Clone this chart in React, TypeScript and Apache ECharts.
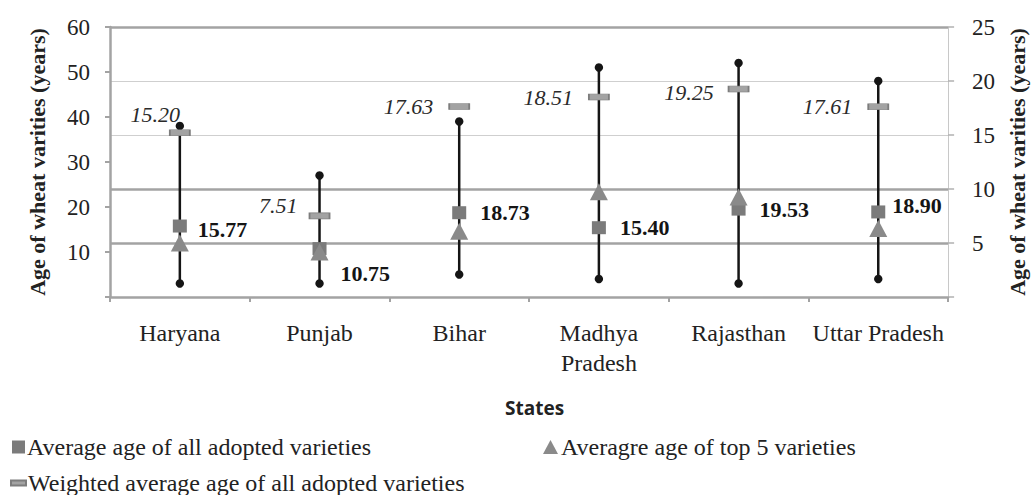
import React, { useEffect, useRef } from "react";
import * as echarts from "echarts";

const states = ["Haryana", "Punjab", "Bihar", "Madhya\nPradesh", "Rajasthan", "Uttar Pradesh"];
const maxAge = [38, 27, 39, 51, 52, 48];
const minAge = [3, 3, 5, 4, 3, 4];
const avgAll = [15.77, 10.75, 18.73, 15.4, 19.53, 18.9];
const avgTop5 = [12, 10, 14.6, 23.4, 22.2, 15.2];
const weightedAvg = [15.2, 7.51, 17.63, 18.51, 19.25, 17.61];
const leftTicks = { min: 0, max: 60, interval: 10 };
const rightTicks = { min: 0, max: 25, interval: 5 };

const NAME_AVG = "Average age of all adopted varieties";
const NAME_TOP5 = "Averagre age of top 5 varieties";
const NAME_W = "Weighted average age of all adopted varieties";
const AXIS_TITLE = "Age of wheat varities (years)";

const SERIF = "'Liberation Serif', 'Times New Roman', serif";

export default function App() {
  const ref = useRef<HTMLDivElement>(null);
  useEffect(() => {
    document.body.style.margin = "0";
    const chart = echarts.init(ref.current!, null, { renderer: "svg" });
    const avgOffsets: Record<number, number[]> = { 0: [-3, 3], 1: [0, 25], 5: [-7, -6] };
    const wOffsets: Record<number, number[]> = { 0: [26, -18], 1: [4, -10], 4: [1, 3] };
    const option: any = {
      animation: false,
      grid: { left: 110, right: 78, top: 27, bottom: 198 },
      xAxis: {
        type: "category",
        data: states,
        axisLine: { lineStyle: { color: "#a3a3a3", width: 2.5 } },
        axisTick: { show: true, length: 5, lineStyle: { color: "#a3a3a3", width: 2 } },
        axisLabel: {
          margin: 21,
          fontFamily: SERIF,
          fontSize: 24,
          lineHeight: 30,
          color: "#222",
          interval: 0,
        },
      },
      yAxis: [
        {
          type: "value",
          ...leftTicks,
          position: "left",
          name: AXIS_TITLE,
          nameLocation: "middle",
          nameGap: 62,
          nameTextStyle: { fontFamily: SERIF, fontSize: 22, fontWeight: "bold", color: "#222" },
          axisLine: { show: true, lineStyle: { color: "#a3a3a3", width: 2.5 } },
          axisTick: { show: true, length: 5, lineStyle: { color: "#a3a3a3", width: 2 } },
          axisLabel: {
            margin: 20,
            fontFamily: SERIF,
            fontSize: 23,
            color: "#222",
            formatter: (v: number) => (v === 0 ? "" : String(v)),
          },
          splitLine: { show: false },
        },
        {
          type: "value",
          ...rightTicks,
          position: "right",
          name: AXIS_TITLE,
          nameLocation: "middle",
          nameGap: 56,
          nameTextStyle: { fontFamily: SERIF, fontSize: 22, fontWeight: "bold", color: "#222" },
          axisLine: { show: true, lineStyle: { color: "#c8c8c8", width: 1 } },
          axisTick: { show: true, length: 6, lineStyle: { color: "#b0b0b0", width: 1.5 } },
          axisLabel: {
            margin: 24,
            fontFamily: SERIF,
            fontSize: 23,
            color: "#222",
            formatter: (v: number) => (v === 0 ? "" : String(v)),
          },
          splitLine: { show: true, lineStyle: { color: "#cfcfcf", width: 1 } },
        },
        {
          type: "value",
          min: 0,
          max: 25,
          interval: 5,
          position: "right",
          axisLine: { show: false },
          axisTick: { show: false },
          axisLabel: { show: false },
          splitLine: {
            show: true,
            lineStyle: {
              color: ["rgba(0,0,0,0)", "#a3a3a3", "#a3a3a3", "rgba(0,0,0,0)", "rgba(0,0,0,0)", "#a3a3a3"],
              width: 2.5,
            },
          },
        },
      ],
      legend: [
        {
          data: [{ name: NAME_AVG, icon: "rect" }],
          left: 12,
          top: 434,
          itemWidth: 13,
          itemHeight: 13,
          textStyle: { fontFamily: SERIF, fontSize: 24, color: "#222", lineHeight: 26, padding: [0, 0, 0, -3] },
          padding: 0,
        },
        {
          data: [{ name: NAME_TOP5, icon: "triangle" }],
          left: 543,
          top: 434,
          itemWidth: 15,
          itemHeight: 14,
          textStyle: { fontFamily: SERIF, fontSize: 24, color: "#222", lineHeight: 26, padding: [0, 0, 0, -2] },
          padding: 0,
        },
        {
          data: [{ name: NAME_W, icon: "rect" }],
          left: 10,
          top: 470,
          itemWidth: 15,
          itemHeight: 5,
          textStyle: { fontFamily: SERIF, fontSize: 24, color: "#222", lineHeight: 26, padding: [0, 0, 0, -3] },
          padding: 0,
        },
      ],
      graphic: [
        {
          type: "text",
          left: 505,
          top: 398,
          style: {
            text: "States",
            fontFamily: "'Open Sans', 'Noto Sans', sans-serif",
            fontWeight: "bold",
            fontSize: 19,
            fill: "#222",
          },
        },
      ],
      series: [
        {
          type: "custom",
          name: "range",
          yAxisIndex: 0,
          z: 3,
          encode: { x: 0, y: [1, 2] },
          data: states.map((_, i) => [i, minAge[i], maxAge[i]]),
          renderItem: (params: any, api: any) => {
            const x = api.value(0);
            const lo = api.coord([x, api.value(1)]);
            const hi = api.coord([x, api.value(2)]);
            return {
              type: "group",
              children: [
                {
                  type: "line",
                  shape: { x1: lo[0], y1: lo[1], x2: hi[0], y2: hi[1] },
                  style: { stroke: "#151515", lineWidth: 2.5 },
                },
                { type: "circle", shape: { cx: lo[0], cy: lo[1], r: 4.2 }, style: { fill: "#151515" } },
                { type: "circle", shape: { cx: hi[0], cy: hi[1], r: 4.2 }, style: { fill: "#151515" } },
              ],
            };
          },
        },
        {
          type: "scatter",
          name: NAME_AVG,
          yAxisIndex: 0,
          z: 4,
          symbol: "rect",
          symbolSize: [14, 13],
          itemStyle: { color: "#7b7b7b", opacity: 1 },
          data: avgAll.map((v, i) => ({
            value: v,
            label: avgOffsets[i] ? { offset: avgOffsets[i] } : undefined,
          })),
          label: {
            show: true,
            position: "right",
            distance: 14,
            fontFamily: SERIF,
            fontWeight: "bold",
            fontSize: 22,
            color: "#151515",
            formatter: (p: any) => Number(p.value).toFixed(2),
          },
        },
        {
          type: "scatter",
          name: NAME_TOP5,
          yAxisIndex: 0,
          z: 5,
          symbol: "triangle",
          symbolSize: [18, 17],
          itemStyle: { color: "#8a8a8a", opacity: 1 },
          data: avgTop5,
        },
        {
          type: "scatter",
          name: NAME_W,
          yAxisIndex: 1,
          z: 5,
          symbol: "rect",
          symbolSize: [20, 6],
          itemStyle: { color: "#a3a3a3", borderColor: "#7d7d7d", borderWidth: 1, opacity: 1 },
          data: weightedAvg.map((v, i) => ({
            value: v,
            label: wOffsets[i] ? { offset: wOffsets[i] } : undefined,
          })),
          label: {
            show: true,
            position: "left",
            distance: 15,
            fontFamily: SERIF,
            fontStyle: "italic",
            fontSize: 22,
            color: "#2a2a2a",
            formatter: (p: any) => Number(p.value).toFixed(2),
          },
        },
      ],
    };
    chart.setOption(option);
    return () => chart.dispose();
  }, []);
  return (
    <div
      ref={ref}
      style={{ position: "fixed", left: 0, top: 0, width: 1036, height: 495, background: "#fff" }}
    />
  );
}
